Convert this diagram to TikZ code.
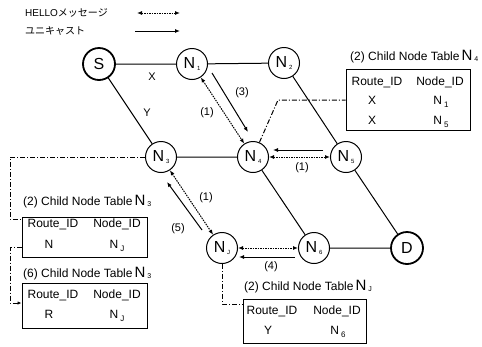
\documentclass[tikz,border=0pt]{standalone}
\usepackage{fontspec}
\setmainfont{Liberation Sans}
\newfontfamily\jpfont{Noto Sans CJK JP}
\usetikzlibrary{arrows.meta}

% N with a small index, in three sizes
\newcommand{\Nnode}[1]{{\fontsize{16}{16}\selectfont N}\,\raisebox{-0.3ex}{\fontsize{6}{6}\selectfont #1}}
\newcommand{\Ncell}[1]{N\,\raisebox{-0.5ex}{\fontsize{8}{8}\selectfont #1}}
\newcommand{\Ntitle}[1]{{\fontsize{15}{15}\selectfont N}\,\raisebox{-0.3ex}{\fontsize{7}{7}\selectfont #1}}

\begin{document}
\begin{tikzpicture}[x=1pt, y=-1pt,
    every node/.style={font=\fontsize{11}{13}\selectfont},
    router/.style={circle, draw, line width=1pt, minimum size=31pt, inner sep=0pt},
    endpoint/.style={router, line width=1.8pt, minimum size=32pt, font=\fontsize{16}{16}\selectfont},
    link/.style={line width=1pt},
    hello/.style={line width=1pt, dash pattern=on 1.5pt off 1pt,
                  {Latex[length=5pt,width=4pt]}-{Latex[length=5pt,width=4pt]}},
    uni/.style={line width=1pt, -{Latex[length=5pt,width=4pt]}},
    tbllink/.style={line width=1pt, dash pattern=on 5pt off 2pt on 1pt off 2pt},
    tblbox/.style={draw, line width=1pt, inner sep=0pt},
    tbltitle/.style={anchor=base west, inner sep=0pt, font=\fontsize{12}{14}\selectfont},
    cell/.style={anchor=base, inner sep=0pt, font=\fontsize{12}{14}\selectfont},
    legend/.style={anchor=west, inner sep=0pt, font=\fontsize{10}{12}\selectfont}]
  \useasboundingbox (0,0) rectangle (482,346);

  % legend
  \node[legend] (lhello) at (25,13) {HELLO{\jpfont メッセージ}};
  \node[legend] (luni)   at (25,31) {\jpfont ユニキャスト};
  \coordinate (h0) at (137,13);
  \coordinate (h1) at (180,13);
  \coordinate (u0) at (135,31);
  \coordinate (u1) at (180,31);
  \draw[hello] (h0) -- (h1);
  \draw[uni] (u0) -- (u1);

  % nodes of the network
  \node[endpoint] (s)  at ( 99, 64) {S};
  \node[router]   (n1) at (192, 64) {\Nnode{1}};
  \node[router]   (n2) at (284, 63) {\Nnode{2}};
  \node[router]   (n3) at (161,157) {\Nnode{3}};
  \node[router]   (n4) at (253,157) {\Nnode{4}};
  \node[router]   (n5) at (346,157) {\Nnode{5}};
  \node[router]   (nj) at (222,248) {\Nnode{J}};
  \node[router]   (n6) at (314,248) {\Nnode{6}};
  \node[endpoint] (d)  at (407,248) {D};

  \draw[link] (s) -- (n1) -- (n2);
  \draw[link] (s) -- (n3) -- (n4);
  \draw[link] (n2) -- (n5) -- (d);
  \draw[link] (n4) -- (n6) -- (d);
  \node (lx) at (152,77) {X};
  \node (ly) at (147,113) {Y};

  % HELLO exchange and unicast replies
  \draw[hello] (n1) -- (n4);
  \draw[uni] ([shift={(20,9)}]n1.center) -- ([shift={(-5,-25)}]n4.center);
  \node (m1a) at (207,113) {(1)};
  \node (m3)  at (242,93) {(3)};

  \draw[hello] (n4) -- (n5);
  \draw[uni] ([shift={(-23,-7)}]n5.center) -- ([shift={(20,-7)}]n4.center);
  \node (m1b) at (302,168) {(1)};

  \draw[hello] (n3) -- (nj);
  \draw[uni] ([shift={(-20,-18)}]nj.center) -- ([shift={(6,25)}]n3.center);
  \node (m1c) at (206,198) {(1)};
  \node (m5)  at (178,229) {(5)};

  \draw[hello] (nj) -- (n6);
  \draw[uni] ([shift={(-19,9)}]n6.center) -- ([shift={(17,9)}]nj.center);
  \node (m4) at (271,267) {(4)};

  % child node table of N4
  \node[tblbox, minimum width=124pt, minimum height=61pt] (t4) at (408,99.5) {};
  \node[tbltitle] (t4title) at (350,60) {(2) Child Node Table\,\Ntitle{4}};
  \node[cell] (t4h1) at (377,85) {Route\_ID};
  \node[cell] (t4h2) at (440,85) {Node\_ID};
  \node[cell] (t4r1) at (372,104) {X};
  \node[cell] (t4n1) at (441,104) {\Ncell{1}};
  \node[cell] (t4r2) at (372,124) {X};
  \node[cell] (t4n2) at (441,124) {\Ncell{5}};

  % child node tables of N3
  \node[tblbox, minimum width=125pt, minimum height=40pt] (t3a) at (84.5,237) {};
  \node[tbltitle] (t3atitle) at (23,205) {(2) Child Node Table\,\Ntitle{3}};
  \node[cell] (t3ah1) at (53,227) {Route\_ID};
  \node[cell] (t3ah2) at (117,227) {Node\_ID};
  \node[cell] (t3ar1) at (49,248) {N};
  \node[cell] (t3an1) at (117,248) {\Ncell{J}};

  \node[tblbox, minimum width=125pt, minimum height=45pt] (t3b) at (84.5,305.5) {};
  \node[tbltitle] (t3btitle) at (23,277) {(6) Child Node Table\,\Ntitle{3}};
  \node[cell] (t3bh1) at (53,298) {Route\_ID};
  \node[cell] (t3bh2) at (117,298) {Node\_ID};
  \node[cell] (t3br1) at (49,318) {R};
  \node[cell] (t3bn1) at (117,318) {\Ncell{J}};

  % child node table of NJ
  \node[tblbox, minimum width=123pt, minimum height=44pt] (tj) at (304.5,321) {};
  \node[tbltitle] (tjtitle) at (244,290) {(2) Child Node Table\,\Ntitle{J}};
  \node[cell] (tjh1) at (272,314) {Route\_ID};
  \node[cell] (tjh2) at (337,314) {Node\_ID};
  \node[cell] (tjr1) at (268,334) {Y};
  \node[cell] (tjn1) at (338,334) {\Ncell{6}};

  % links from nodes to their tables
  \coordinate (k4) at (278,100);
  \draw[tbllink] (n4) -- (k4) -- (k4 -| t4.west);
  \coordinate (k3) at (10,219);
  \draw[tbllink] (n3.west) -- (n3.west -| k3) -- (k3) -- (k3 -| t3a.west);
  \coordinate (k3b) at (10,247);
  \coordinate (k3c) at (10,303);
  \draw[tbllink, -{Latex[length=4pt,width=3.5pt]}] (k3b -| t3a.west) -- (k3b) -- (k3c) -- (k3c -| t3b.west);
  \coordinate (kj) at (222,304);
  \draw[tbllink] (nj.south) -- (kj) -- (kj -| tj.west);
\end{tikzpicture}
\end{document}
